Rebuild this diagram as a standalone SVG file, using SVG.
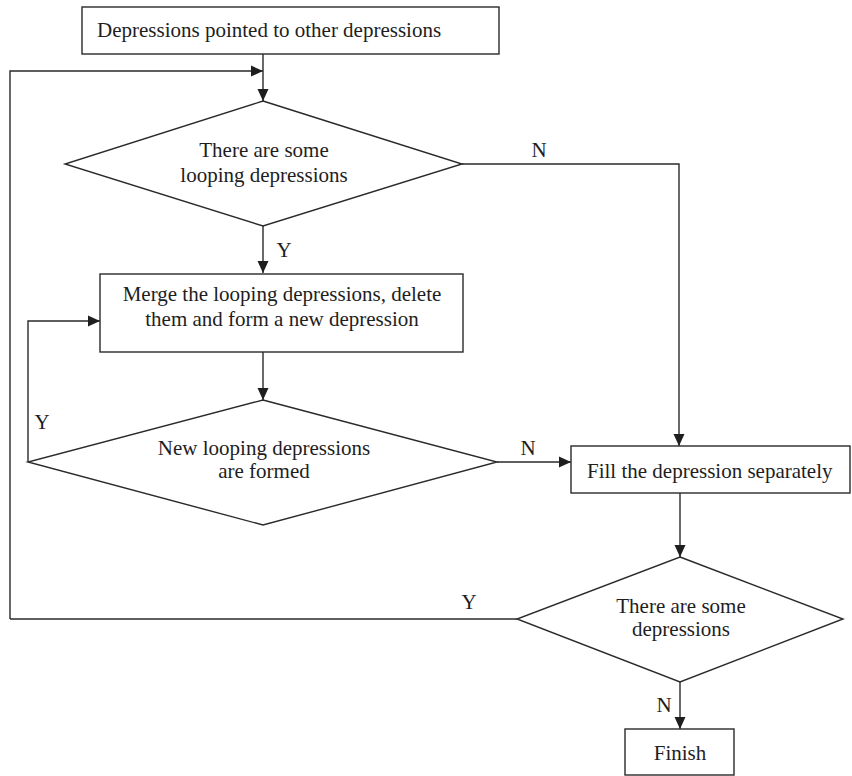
<svg xmlns="http://www.w3.org/2000/svg" width="852" height="776" viewBox="0 0 852 776">
<style>
.s{fill:#fff;stroke:#2a2a2a;stroke-width:1.4}
.c{fill:none;stroke:#2a2a2a;stroke-width:1.4}
text{font-family:"Liberation Serif","Times New Roman",serif;font-size:21px;fill:#1e1e1e}
.m{text-anchor:middle}
</style>
<defs>
<marker id="a" viewBox="0 0 12 12" refX="12" refY="6" markerWidth="12" markerHeight="12" markerUnits="userSpaceOnUse" orient="auto">
<path d="M0,0.5 L12,6 L0,11.5 Z" fill="#1e1e1e"/>
</marker>
</defs>
<g id="connectors">
<path class="c" d="M263,54 V101" marker-end="url(#a)"/>
<path class="c" d="M10,619 V71 H263" marker-end="url(#a)"/>
<path class="c" d="M462,164 H679 V446" marker-end="url(#a)"/>
<path class="c" d="M263,226 V273" marker-end="url(#a)"/>
<path class="c" d="M263,352 V400" marker-end="url(#a)"/>
<path class="c" d="M28,462 V321 H100" marker-end="url(#a)"/>
<path class="c" d="M497,462 H571" marker-end="url(#a)"/>
<path class="c" d="M680,493 V557" marker-end="url(#a)"/>
<path class="c" d="M517,619 H10"/>
<path class="c" d="M680,682 V729" marker-end="url(#a)"/>
<text x="539" y="157" class="m">N</text>
<text x="284" y="257" class="m">Y</text>
<text x="42" y="429" class="m">Y</text>
<text x="528" y="455" class="m">N</text>
<text x="469" y="609" class="m">Y</text>
<text x="664" y="712" class="m">N</text>
</g>
<g id="start">
<rect class="s" x="82" y="7" width="417" height="47"/>
<text x="97" y="37">Depressions pointed to other depressions</text>
</g>
<g id="d1">
<polygon class="s" points="263,101 462,164 263,226 65,164"/>
<text x="264" y="157" class="m">There are some</text>
<text x="264" y="182" class="m">looping depressions</text>
</g>
<g id="merge">
<rect class="s" x="100" y="274" width="363" height="78"/>
<text x="282" y="301" class="m">Merge the looping depressions, delete</text>
<text x="282" y="326" class="m">them and form a new depression</text>
</g>
<g id="d2">
<polygon class="s" points="263,400 497,462 263,525 28,462"/>
<text x="264" y="455" class="m">New looping depressions</text>
<text x="264" y="478" class="m">are formed</text>
</g>
<g id="fill">
<rect class="s" x="571" y="446" width="279" height="47"/>
<text x="587" y="478">Fill the depression separately</text>
</g>
<g id="d3">
<polygon class="s" points="680,557 843,619 680,682 517,619"/>
<text x="681" y="613" class="m">There are some</text>
<text x="681" y="636" class="m">depressions</text>
</g>
<g id="finish">
<rect class="s" x="625" y="729" width="109" height="46"/>
<text x="680" y="760" class="m">Finish</text>
</g>
</svg>
